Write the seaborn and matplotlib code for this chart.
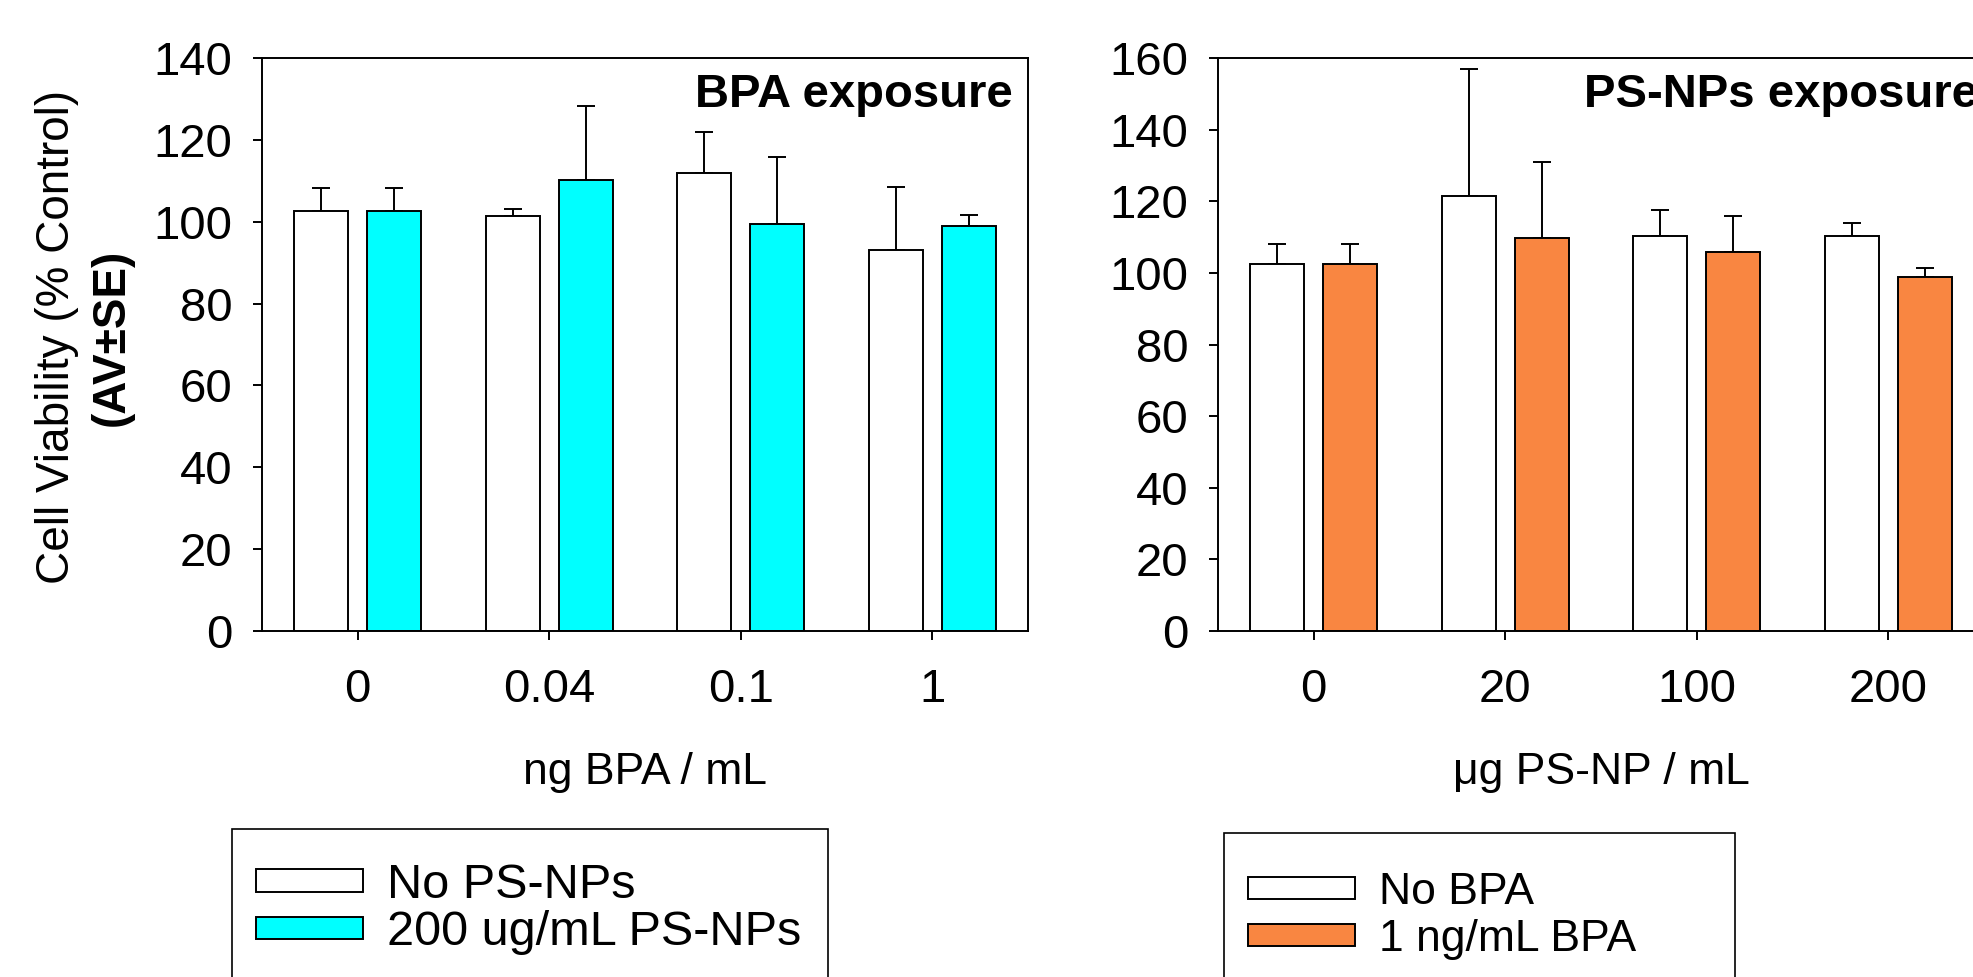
import numpy as np
import pandas as pd
import seaborn as sns
import matplotlib.pyplot as plt
from matplotlib.patches import Patch, Rectangle

# BPA exposure panel (mean, upper SE)
bpa_doses = ["0", "0.04", "0.1", "1"]
bpa_groups = ["No PS-NPs", "200 ug/mL PS-NPs"]
bpa_no_psnp = [102.7, 101.5, 111.8, 93.2]
bpa_no_psnp_se = [5.5, 1.5, 10.2, 15.4]
bpa_with_psnp = [102.7, 110.3, 99.5, 98.9]
bpa_with_psnp_se = [5.5, 18.0, 16.3, 2.7]

# PS-NPs exposure panel
psnp_doses = ["0", "20", "100", "200"]
psnp_groups = ["No BPA", "1 ng/mL BPA"]
psnp_no_bpa = [102.5, 121.5, 110.4, 110.2]
psnp_no_bpa_se = [5.6, 35.5, 7.1, 3.7]
psnp_with_bpa = [102.5, 109.7, 105.7, 98.9]
psnp_with_bpa_se = [5.6, 21.2, 10.2, 2.6]

sns.set_style("ticks")
plt.rcParams["font.family"] = ["Liberation Sans", "DejaVu Sans"]
for key in ["text.color", "axes.labelcolor", "xtick.color", "ytick.color", "axes.edgecolor"]:
    plt.rcParams[key] = "black"

W, H = 1974, 977
fig = plt.figure(figsize=(W / 100, H / 100), dpi=100)
ax1 = fig.add_axes([262 / W, 346 / H, 766 / W, 573 / H])
ax2 = fig.add_axes([1218 / W, 346 / H, 766 / W, 573 / H])


def long_df(doses, groups, a, b):
    return pd.DataFrame({
        "dose": doses * 2,
        "group": [groups[0]] * len(doses) + [groups[1]] * len(doses),
        "viability": a + b,
    })


def draw_panel(ax, df, groups, colors, ses, ymax, xlabel, note, note_x, note_ha):
    sns.barplot(data=df, x="dose", y="viability", hue="group", hue_order=groups,
                palette=colors, saturation=1, width=0.76, gap=0.26, edgecolor="black",
                linewidth=1.4, errorbar=None, legend=False, ax=ax, zorder=2)
    # upper error bars only
    for bars, se in zip(ax.containers, ses):
        xs = [b.get_x() + b.get_width() / 2 for b in bars]
        ys = [b.get_height() for b in bars]
        ax.errorbar(xs, ys, yerr=[np.zeros(len(se)), se], fmt="none", ecolor="black",
                    elinewidth=1.4, capsize=6.5, capthick=1.4, zorder=1)
    ax.set_xlim(-0.5, 3.5)
    ax.set_ylim(0, ymax)
    ax.set_yticks(np.arange(0, ymax + 1, 20))
    for s in ax.spines.values():
        s.set_visible(True)
        s.set_color("black")
        s.set_linewidth(1.4)
    ax.tick_params(axis="both", direction="out", length=6.5, width=1.4,
                   labelsize=34, colors="black")
    ax.tick_params(axis="y", pad=15)
    ax.tick_params(axis="x", pad=20)
    ax.set_xlabel(xlabel, fontsize=32, labelpad=29)
    ax.set_ylabel("")
    # panel title is clipped at the figure edge on the right panel, as in the original
    ax.text(note_x, 0.915, note, transform=ax.transAxes, ha=note_ha, va="baseline",
            fontsize=34, fontweight="bold")


def draw_legend(ax, groups, colors, box_x, box_y, box_w, anchor, size, pad, spacing):
    handles = [Patch(facecolor=c, edgecolor="black", linewidth=1.4) for c in colors]
    ax.legend(handles, groups, loc="upper left", bbox_to_anchor=anchor,
              bbox_transform=fig.transFigure, frameon=False, fontsize=size,
              handlelength=77 / size, handleheight=12 / size, handletextpad=pad,
              labelspacing=spacing, borderpad=0, borderaxespad=0)
    fig.patches.append(Rectangle((box_x / W, -0.05), box_w / W, 1 - box_y / H + 0.05,
                                 transform=fig.transFigure, facecolor="none",
                                 edgecolor="black", linewidth=1.2))


draw_panel(ax1, long_df(bpa_doses, bpa_groups, bpa_no_psnp, bpa_with_psnp), bpa_groups,
           ["white", "#00FFFF"], [bpa_no_psnp_se, bpa_with_psnp_se], 140,
           "ng BPA / mL", "BPA exposure", 0.98, "right")
draw_panel(ax2, long_df(psnp_doses, psnp_groups, psnp_no_bpa, psnp_with_bpa), psnp_groups,
           ["white", "#F98641"], [psnp_no_bpa_se, psnp_with_bpa_se], 160,
           "\u03bcg PS-NP / mL", "PS-NPs exposure", 0.478, "left")

ax1.set_ylabel("Cell Viability (% Control)", fontsize=33)
ax1.yaxis.set_label_coords(-0.268, 0.513)
ax1.yaxis.label.set_verticalalignment("center")
ax1.text(-0.196, 0.513, "(AV\u00b1SE)", transform=ax1.transAxes, rotation=90,
         ha="center", va="center", fontsize=33, fontweight="bold")

draw_legend(ax1, bpa_groups, ["white", "#00FFFF"], 232, 829, 596,
            (256 / W, 1 - 863 / H), 35, 0.5, 0.05)
draw_legend(ax2, psnp_groups, ["white", "#F98641"], 1224, 833, 511,
            (1248 / W, 1 - 872 / H), 32, 0.55, 0.13)

fig.savefig("out.png", dpi=100)
